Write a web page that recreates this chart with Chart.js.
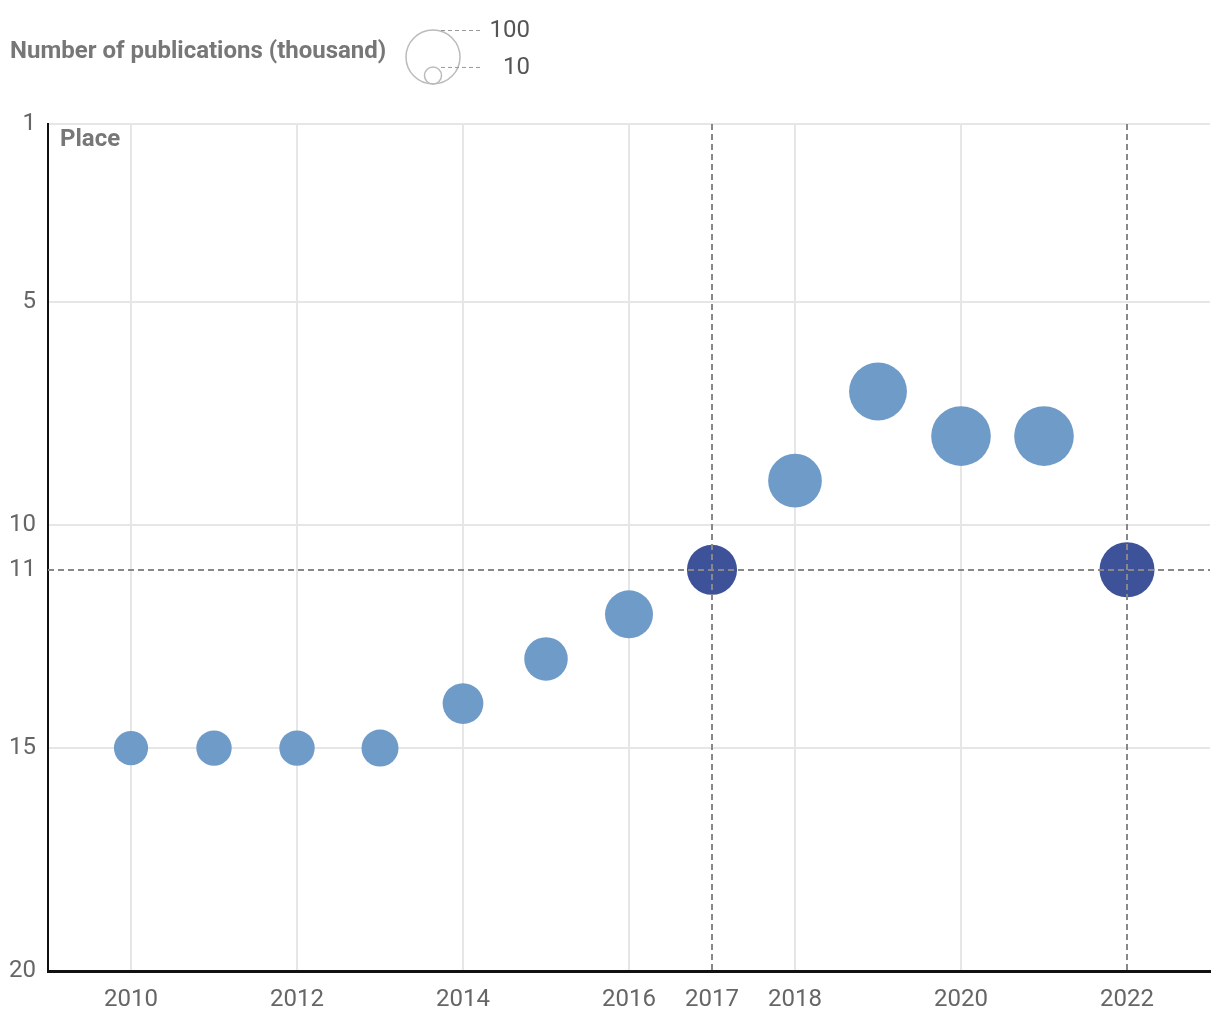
<!DOCTYPE html>
<html>
<head>
<meta charset="utf-8">
<script src="https://cdn.jsdelivr.net/npm/chart.js@4.4.1/dist/chart.umd.min.js"></script>
<style>
  html, body { margin: 0; background: #fff; }
</style>
</head>
<body>
<canvas id="placeChart" width="1220" height="1022"></canvas>
<script>
// Data
const years = [2010, 2011, 2012, 2013, 2014, 2015, 2016, 2017, 2018, 2019, 2020, 2021, 2022];
const places = [15, 15, 15, 15, 14, 13, 12, 11, 9, 7, 8, 8, 11];
const publications = [40, 43, 43, 47, 57, 65, 79, 86, 99, 115, 122, 122, 104]; // thousand
const highlightYears = [2017, 2022];
const highlightPlace = 11;
const xTicks = [2010, 2012, 2014, 2016, 2017, 2018, 2020, 2022];
const yTicks = [1, 5, 10, 11, 15, 20];
const legendValues = [100, 10];

const lightBlue = "#6f9bc9";
const darkBlue = "#3d5299";
const gridColor = "#e6e6e6";
const dashColor = "#888888";
const font = "Roboto";
const fontSize = 24;

// bubble area proportional to value: 100 thousand -> radius 27px
const radiusFor = v => 27 * Math.sqrt(v / 100);

const points = years.map((y, i) => ({ x: y, y: places[i], r: radiusFor(publications[i]) }));

const extras = {
  id: "extras",
  afterDatasetsDraw(chart) {
    const { ctx, chartArea, scales } = chart;
    ctx.save();
    // dashed reference lines
    ctx.strokeStyle = dashColor;
    ctx.lineWidth = 2;
    ctx.setLineDash([6, 4]);
    highlightYears.forEach(yr => {
      const px = Math.round(scales.x.getPixelForValue(yr));
      ctx.beginPath();
      ctx.moveTo(px, chartArea.top);
      ctx.lineTo(px, chartArea.bottom);
      ctx.stroke();
    });
    const py = Math.round(scales.y.getPixelForValue(highlightPlace));
    ctx.beginPath();
    ctx.moveTo(chartArea.left, py);
    ctx.lineTo(chartArea.right, py);
    ctx.stroke();

    // "Place" label inside plot
    ctx.setLineDash([]);
    ctx.fillStyle = "#777";
    ctx.font = "bold " + fontSize + "px " + font;
    ctx.textBaseline = "alphabetic";
    ctx.textAlign = "left";
    ctx.fillText("Place", chartArea.left + 12, chartArea.top + 22);

    // size legend
    ctx.fillText("Number of publications (thousand)", 10, 58);
    const cx = 433, bottom = 84;
    legendValues.forEach(v => {
      const r = radiusFor(v);
      ctx.setLineDash([]);
      ctx.strokeStyle = "#bbbbbb";
      ctx.lineWidth = 1.5;
      ctx.beginPath();
      ctx.arc(cx, bottom - r, r, 0, Math.PI * 2);
      ctx.stroke();
      ctx.setLineDash([4, 3]);
      ctx.strokeStyle = "#999999";
      ctx.lineWidth = 1;
      ctx.beginPath();
      ctx.moveTo(cx + 8, bottom - 2 * r + 0.5);
      ctx.lineTo(480, bottom - 2 * r + 0.5);
      ctx.stroke();
      ctx.fillStyle = "#555";
      ctx.font = fontSize + "px " + font;
      ctx.textAlign = "right";
      ctx.textBaseline = "middle";
      ctx.fillText(String(v), 530, bottom - 2 * r + 1);
    });
    ctx.restore();
  }
};

new Chart(document.getElementById("placeChart"), {
  type: "bubble",
  data: {
    datasets: [{
      data: points,
      backgroundColor: years.map(y => highlightYears.includes(y) ? darkBlue : lightBlue),
      borderWidth: 0,
      hoverBorderWidth: 0,
      hoverRadius: 0,
      clip: false
    }]
  },
  options: {
    responsive: false,
    animation: false,
    events: [],
    layout: { autoPadding: false, padding: { top: 124, right: 10, left: 0, bottom: 0 } },
    plugins: { legend: { display: false }, tooltip: { enabled: false } },
    scales: {
      x: {
        type: "linear",
        min: 2009,
        max: 2023,
        afterBuildTicks: axis => { axis.ticks = xTicks.map(v => ({ value: v })); },
        afterFit: axis => { axis.height = 51; axis.paddingLeft = 0; axis.paddingRight = 0; },
        ticks: {
          callback: v => String(v),
          color: "#666",
          font: { family: font, size: fontSize },
          padding: 15,
          maxRotation: 0,
          autoSkip: false
        },
        grid: {
          drawTicks: false,
          color: c => c.tick && highlightYears.includes(c.tick.value) ? "rgba(0,0,0,0)" : gridColor,
          lineWidth: 2
        },
        border: { color: "#111", width: 3 }
      },
      y: {
        type: "linear",
        reverse: true,
        min: 1,
        max: 20,
        afterBuildTicks: axis => { axis.ticks = yTicks.map(v => ({ value: v })); },
        afterFit: axis => { axis.width = 48; axis.paddingTop = 0; axis.paddingBottom = 0; },
        ticks: {
          color: "#666",
          font: { family: font, size: fontSize },
          padding: 12,
          autoSkip: false
        },
        grid: {
          drawTicks: false,
          color: c => c.tick && c.tick.value === highlightPlace ? "rgba(0,0,0,0)" : gridColor,
          lineWidth: 2
        },
        border: { color: "#111", width: 2 }
      }
    }
  },
  plugins: [extras]
});
</script>
</body>
</html>
